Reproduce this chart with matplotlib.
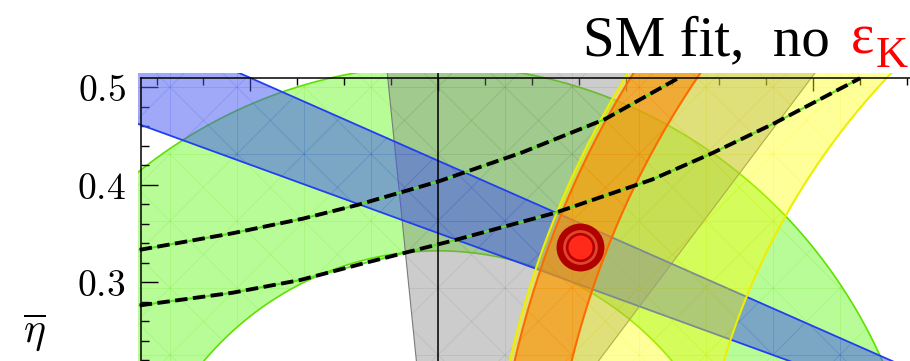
import numpy as np
import matplotlib
matplotlib.use("Agg")
import matplotlib.pyplot as plt
from matplotlib.patches import Polygon
from matplotlib.collections import LineCollection
from matplotlib.ticker import MultipleLocator, FixedLocator

plt.rcParams['mathtext.fontset'] = 'cm'

# Constraint bands in the (rho-bar, eta-bar) plane
vub_vcb_radii = [0.332, 0.522]      # ring centred on (0, 0)
dms_dmd_radii = [0.729, 0.949]      # ring centred on (1, 0)
dmd_radii = [0.885, 0.944]          # ring centred on (1, 0)
beta_deg = [19.3, 23.0]             # sin(2 beta): lines through (1, 0)
gamma_deg = [52.0, 96.0]            # wedge from (0, 0)

# epsilon_K prediction (dashed curves)
epsk_upper_rho = [-0.318, -0.219, -0.144, -0.086, 0.000, 0.090, 0.178, 0.256]
epsk_upper_eta = [0.333, 0.350, 0.365, 0.379, 0.403, 0.433, 0.467, 0.509]
epsk_lower_rho = [-0.318, -0.219, -0.147, -0.076, 0.018, 0.125, 0.228, 0.292, 0.359, 0.450]
epsk_lower_eta = [0.276, 0.289, 0.302, 0.320, 0.343, 0.371, 0.405, 0.432, 0.463, 0.509]

# Fit result
fit_rho, fit_eta = 0.151, 0.336

# Axis ticks
eta_ticks = [0.3, 0.4, 0.5]
eta_tick_labels = ['0.3', '0.4', '0.5']
eta_minor = 0.02
rho_major, rho_minor = 0.2, 0.05

RHO_MIN, RHO_FRAME, RHO_MAX = -0.3198, -0.3166, 0.60
ETA_MIN, ETA_FRAME, ETA_MAX = 0.0, 0.5092, 0.5145

fig = plt.figure(figsize=(9.10, 3.61), dpi=100)
ax = fig.add_axes([138 / 910, -0.5914, 0.9481, 1.3895])
ax.set_xlim(RHO_MIN, RHO_MAX)
ax.set_ylim(ETA_MIN, ETA_MAX)


def ring(cx, cy, r1, r2, t0, t1, n=500):
    t = np.linspace(t0, t1, n)
    outer = np.c_[cx + r2 * np.cos(t), cy + r2 * np.sin(t)]
    inner = np.c_[cx + r1 * np.cos(t), cy + r1 * np.sin(t)]
    return np.vstack([outer, inner[::-1]]), [outer, inner]


def wedge(cx, cy, a1, a2, sign=1, L=3.0):
    p1 = (cx + sign * L * np.cos(np.radians(a1)), cy + L * np.sin(np.radians(a1)))
    p2 = (cx + sign * L * np.cos(np.radians(a2)), cy + L * np.sin(np.radians(a2)))
    poly = np.array([(cx, cy), p1, p2])
    return poly, [np.array([(cx, cy), p1]), np.array([(cx, cy), p2])]


# faint triangulation mesh seen inside each filled region
dx, dy = 1 / 14, 0.0687
s = dy / dx
mesh = []
for k in range(-8, 16):
    mesh.append([(k * dx, -1), (k * dx, 1.5)])
for m in range(-12, 3):
    mesh.append([(-1, 0.5 + m * dy), (1.5, 0.5 + m * dy)])
for n in range(-40, 40):
    mesh.append([(-1, 0.5 - s + n * dy), (1.5, 0.5 + 1.5 * s + n * dy)])
    mesh.append([(-1, 0.5 + s + n * dy), (1.5, 0.5 - 1.5 * s + n * dy)])


def draw_region(poly, edges, face, alpha, edgecolor, elw, z, mesh_alpha=0.16):
    patch = Polygon(poly, closed=True, facecolor=face, alpha=alpha,
                    edgecolor='none', zorder=z)
    ax.add_patch(patch)
    lc = LineCollection(mesh, colors=edgecolor, linewidths=0.7,
                        alpha=mesh_alpha, zorder=z + 0.1)
    ax.add_collection(lc)
    lc.set_clip_path(patch)
    for e in edges:
        ax.plot(e[:, 0], e[:, 1], color=edgecolor, lw=elw, zorder=z + 0.2,
                solid_capstyle='butt')


poly, edges = ring(0, 0, vub_vcb_radii[0], vub_vcb_radii[1], 0, np.pi)
draw_region(poly, edges, (0.45, 0.98, 0.20), 0.5, '#5fe000', 1.2, 1)

poly, edges = wedge(0, 0, gamma_deg[0], gamma_deg[1])
draw_region(poly, edges, (0.5, 0.5, 0.5), 0.4, '#7a7a7a', 0.8, 2)

poly, edges = wedge(1, 0, beta_deg[0], beta_deg[1], sign=-1)
draw_region(poly, edges, (0.25, 0.33, 0.95), 0.5, '#2040f0', 1.3, 3)

poly, edges = ring(1, 0, dms_dmd_radii[0], dms_dmd_radii[1], np.pi / 2, np.pi)
draw_region(poly, edges, (1.0, 1.0, 0.0), 0.4, '#eeee00', 1.5, 4)

poly, edges = ring(1, 0, dmd_radii[0], dmd_radii[1], np.pi / 2, np.pi)
draw_region(poly, edges, (1.0, 0.5, 0.0), 0.55, '#ff6a00', 1.5, 5)

# rho = 0 line
ax.axvline(0, color='black', lw=1.1, zorder=6)

# epsilon_K curves
for r, e in [(epsk_upper_rho, epsk_upper_eta), (epsk_lower_rho, epsk_lower_eta)]:
    ax.plot(r, e, color='#55e020', lw=1.4, zorder=7)
    ax.plot(r, e, color='black', lw=2.8, ls=(0, (3.2, 1.4)), zorder=8,
            solid_joinstyle='round', dash_joinstyle='round')

# fit result: 95% / 68% regions
for ms, col in [(34.5, '#b00000'), (25.0, '#e0452f'), (21.0, '#b50000'), (17.3, '#ff2a1a')]:
    ax.plot([fit_rho], [fit_eta], 'o', ms=ms, color=col, mec='none', zorder=9)

# frame and ticks
for side in ['right', 'bottom']:
    ax.spines[side].set_visible(False)
ax.spines['top'].set_position(('data', ETA_FRAME))
ax.spines['left'].set_position(('data', RHO_FRAME))
ax.spines['top'].set_bounds(RHO_FRAME, RHO_MAX)
ax.spines['left'].set_bounds(ETA_MIN, ETA_FRAME)
for side in ['top', 'left']:
    ax.spines[side].set_linewidth(1.1)
    ax.spines[side].set_zorder(10)

ax.xaxis.tick_top()
ax.xaxis.set_major_locator(MultipleLocator(rho_major))
ax.xaxis.set_minor_locator(MultipleLocator(rho_minor))
ax.tick_params(axis='x', which='both', direction='in', labeltop=False,
               labelbottom=False, bottom=False, width=1.0)
ax.tick_params(axis='x', which='major', length=9)
ax.tick_params(axis='x', which='minor', length=5)

ax.yaxis.set_major_locator(FixedLocator(eta_ticks))
ax.set_yticklabels([f'${t}$' for t in eta_tick_labels])
ax.yaxis.set_minor_locator(MultipleLocator(eta_minor))
ax.tick_params(axis='y', which='both', direction='in', right=False, width=1.0)
ax.tick_params(axis='y', which='major', length=12, labelsize=27, pad=11)
ax.tick_params(axis='y', which='minor', length=6)

# axis label
fig.text(34 / 910, 1 - 333 / 361, r'$\overline{\eta}$', fontsize=30,
         ha='center', va='center')

# title
serif = ['Liberation Serif', 'DejaVu Serif']
fig.text(830 / 910, 1 - 55 / 361, 'SM fit,  no', fontsize=41, family=serif,
         ha='right', va='baseline')
fig.text(874 / 910, 1 - 53 / 361, '\u03b5', fontsize=40, family=serif,
         color='red', ha='right', va='baseline')
fig.text(908 / 910, 1 - 67 / 361, 'K', fontsize=32, family=serif,
         color='red', ha='right', va='baseline')

fig.savefig('out.png', dpi=100)
